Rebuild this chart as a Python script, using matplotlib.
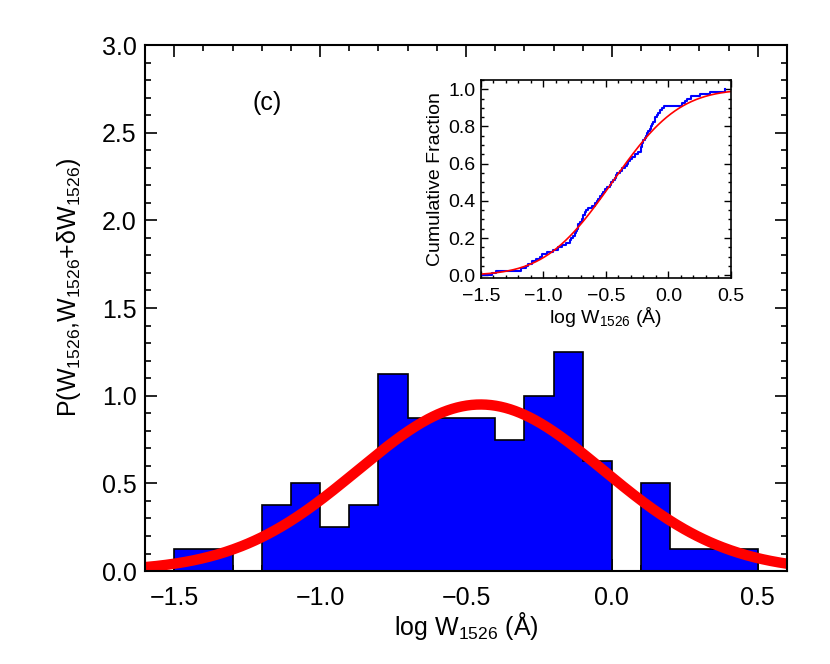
"""Histogram of log W1526 with gaussian fit and cumulative inset."""
import matplotlib

matplotlib.use("Agg")
import matplotlib.pyplot as plt
import numpy as np
from matplotlib.ticker import MultipleLocator

plt.rcParams["font.family"] = ["Liberation Sans", "DejaVu Sans"]
plt.rcParams["mathtext.default"] = "regular"

# sorted log W1526 values
logw = [
    -1.41, -1.38,
    -1.18, -1.14, -1.12,
    -1.09, -1.06, -1.03, -1.01,
    -0.97, -0.92,
    -0.88, -0.85, -0.82,
    -0.79, -0.78, -0.76, -0.75, -0.74, -0.73, -0.72, -0.72, -0.71,
    -0.69, -0.68, -0.68, -0.67, -0.66, -0.64, -0.61,
    -0.59, -0.57, -0.56, -0.55, -0.53, -0.52, -0.51,
    -0.49, -0.47, -0.46, -0.44, -0.43, -0.42, -0.41,
    -0.39, -0.37, -0.35, -0.33, -0.32, -0.31,
    -0.29, -0.27, -0.24, -0.22, -0.22, -0.21, -0.21, -0.205,
    -0.19, -0.18, -0.17, -0.16, -0.15, -0.14, -0.13, -0.12, -0.11, -0.105,
    -0.09, -0.08, -0.07, -0.055, -0.035,
    0.11, 0.13, 0.15, 0.18,
    0.25, 0.33, 0.45,
]
bin_edges = [-1.5, -1.4, -1.3, -1.2, -1.1, -1.0, -0.9, -0.8, -0.7, -0.6, -0.5,
             -0.4, -0.3, -0.2, -0.1, 0.0, 0.1, 0.2, 0.3, 0.4, 0.5]

# gaussian fit parameters (mean, sigma) of log W1526
fit_mu = -0.45
fit_sigma = 0.42

BLUE = "#0000FF"
RED = "#FF0000"

logw = np.array(logw)
edges = np.array(bin_edges)
counts, _ = np.histogram(logw, bins=edges)
density = counts / (len(logw) * np.diff(edges))

fig = plt.figure(figsize=(8.3, 6.64), dpi=100)
ax = fig.add_axes([0.1747, 0.140, 0.7735, 0.7922])

ax.stairs(density, edges, fill=True, color=BLUE, zorder=2)
ax.stairs(density, edges, color="black", linewidth=1.2, zorder=3)

xg = np.linspace(-1.6, 0.6, 400)
pdf = np.exp(-0.5 * ((xg - fit_mu) / fit_sigma) ** 2) / (fit_sigma * np.sqrt(2 * np.pi))
ax.plot(xg, pdf, color=RED, linewidth=7.5, solid_capstyle="butt", zorder=4)

ax.set_xlim(-1.6, 0.6)
ax.set_ylim(0, 3.0)
ax.xaxis.set_major_locator(MultipleLocator(0.5))
ax.xaxis.set_minor_locator(MultipleLocator(0.1))
ax.yaxis.set_major_locator(MultipleLocator(0.5))
ax.yaxis.set_minor_locator(MultipleLocator(0.1))
ax.tick_params(which="both", direction="in", top=True, right=True, width=1.2,
               labelsize=18)
ax.tick_params(axis="x", pad=11)
ax.tick_params(axis="y", pad=6)
ax.tick_params(which="major", length=8.5)
ax.tick_params(which="minor", length=4)
for s in ax.spines.values():
    s.set_linewidth(1.5)
    s.set_zorder(5)
ax.set_xlabel("log W$_{1526}$ (Å)", fontsize=18, labelpad=0)
ax.set_ylabel("P(W$_{1526}$,W$_{1526}$+δW$_{1526}$)", fontsize=18)
ax.yaxis.set_label_coords(-0.097, 0.54)
ax.text(-1.18, 2.67, "(c)", fontsize=18, ha="center", va="center")

# inset: cumulative fraction
ins = fig.add_axes([0.5795, 0.5813, 0.3012, 0.2982])
cum = np.arange(1, len(logw) + 1) / len(logw)
xs = np.concatenate([[-1.5], logw])
ys = np.concatenate([[0.0], cum])
ins.step(xs, ys, where="post", color=BLUE, linewidth=1.5)
cdf_x = np.linspace(-1.5, 0.5, 300)
t = (cdf_x - fit_mu) / (fit_sigma * np.sqrt(2))
# erf approximation (Abramowitz-Stegun 7.1.26)
sgn = np.sign(t)
a = np.abs(t)
k = 1.0 / (1.0 + 0.3275911 * a)
poly = k * (0.254829592 + k * (-0.284496736 + k * (1.421413741
                                                    + k * (-1.453152027 + k * 1.061405429))))
erf = sgn * (1 - poly * np.exp(-a * a))
ins.plot(cdf_x, 0.5 * (1 + erf), color=RED, linewidth=1.2)

ins.set_xlim(-1.5, 0.5)
ins.set_ylim(-0.015, 1.05)
ins.xaxis.set_major_locator(MultipleLocator(0.5))
ins.xaxis.set_minor_locator(MultipleLocator(0.1))
ins.yaxis.set_major_locator(MultipleLocator(0.2))
ins.yaxis.set_minor_locator(MultipleLocator(0.05))
ins.tick_params(which="both", direction="in", top=True, right=True, width=1.0,
                labelsize=14)
ins.tick_params(axis="x", pad=7)
ins.tick_params(axis="y", pad=4)
ins.tick_params(which="major", length=5)
ins.tick_params(which="minor", length=2.5)
for s in ins.spines.values():
    s.set_linewidth(1.2)
ins.set_xlabel("log W$_{1526}$ (Å)", fontsize=14, labelpad=0)
ins.set_ylabel("Cumulative Fraction", fontsize=14, labelpad=3)

fig.savefig("out.png", dpi=100)
